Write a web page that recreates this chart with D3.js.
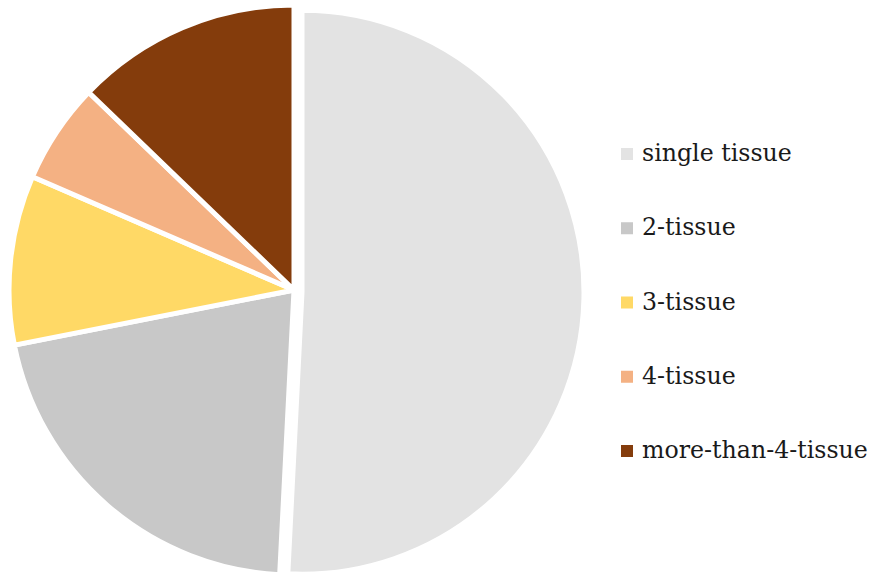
<!DOCTYPE html>
<html><head><meta charset="utf-8">
<script src="https://cdn.jsdelivr.net/npm/d3@7"></script>
<style>body{margin:0;background:#fff}</style>
</head><body>
<svg id="chart" width="875" height="579"></svg>
<script>
const categories = ["single tissue", "2-tissue", "3-tissue", "4-tissue", "more-than-4-tissue"];
const values = [50.8, 21.1, 9.6, 5.7, 12.8];
const colors = ["#E3E3E3", "#C8C8C8", "#FFD966", "#F4B183", "#843C0C"];
const exploded = [8, 0, 0, 0, 0];

const svg = d3.select("#chart");
const cx = 294, cy = 290, R = 285;
const data = categories.map((c, i) => ({name: c, value: values[i], color: colors[i], ex: exploded[i]}));
const pie = d3.pie().value(d => d.value).sort(null);
const arcs = pie(data);
const g = svg.append("g").attr("transform", `translate(${cx},${cy})`);
g.selectAll("path").data(arcs).enter().append("path")
  .attr("d", d => d3.arc().innerRadius(0).outerRadius(d.data.ex ? R - 3 : R)(d))
  .attr("transform", d => {
    const a = (d.startAngle + d.endAngle) / 2;
    return `translate(${Math.sin(a) * d.data.ex},${-Math.cos(a) * d.data.ex + (d.data.ex ? 2 : 0)})`;
  })
  .attr("fill", d => d.data.color)
  .attr("stroke", "#fff")
  .attr("stroke-width", 5)
  .attr("stroke-linejoin", "miter");

const y = d3.scalePoint().domain(categories).range([154, 451]);
const leg = svg.append("g");
const items = leg.selectAll("g").data(data).enter().append("g")
  .attr("transform", d => `translate(621,${y(d.name)})`);
items.append("rect").attr("x", 0).attr("y", -6).attr("width", 12).attr("height", 12)
  .attr("fill", d => d.color);
const texts = items.append("text").attr("x", 21).attr("y", 7)
  .attr("font-family", "'DejaVu Serif', serif").attr("font-size", 20)
  .attr("fill", "#1a1a1a").text(d => d.name);
// fit font size to reference width of the longest label (~226px)
const w = texts.nodes()[4].getComputedTextLength();
const fs = 20 * 226 / w;
texts.attr("font-size", fs);
</script>
</body></html>
